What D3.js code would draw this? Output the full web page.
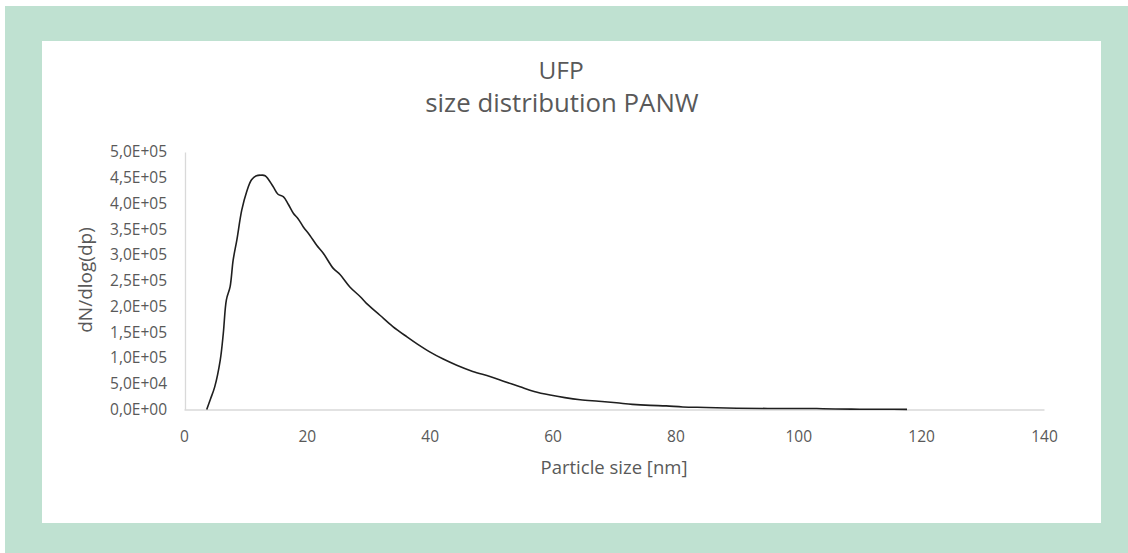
<!DOCTYPE html>
<html>
<head>
<meta charset="utf-8">
<script src="https://cdn.jsdelivr.net/npm/d3@7"></script>
<style>
  html, body { margin: 0; padding: 0; background: #ffffff; }
  svg { display: block; }
</style>
</head>
<body>
<svg id="chart" width="1128" height="553"></svg>
<script>
// ---- Data ----
const titleLines = ["UFP", "size distribution PANW"];
const xAxisTitle = "Particle size [nm]";
const yAxisTitle = "dN/dlog(dp)";
const xTicks = [0, 20, 40, 60, 80, 100, 120, 140];
const yTicks = [0, 50000, 100000, 150000, 200000, 250000, 300000, 350000, 400000, 450000, 500000];
const particleSize = [3.7, 4.3, 5.0, 5.9, 6.4, 6.9, 7.5, 8.0, 8.6, 9.4, 10.2, 11.0, 11.8, 12.5, 13.2, 14.5, 15.3, 16.2, 17.0, 17.8, 18.6, 19.4, 20.5, 21.6, 22.7, 24.3, 25.4, 27.0, 28.7, 29.7, 31.9, 34.0, 36.3, 38.0, 40.0, 42.2, 44.4, 47.0, 49.8, 52.0, 54.7, 57.0, 59.6, 62.0, 64.5, 67.5, 70.4, 73.0, 75.9, 78.5, 81.2, 85.0, 90.0, 95.0, 100.0, 103.0, 106.0, 110.0, 114.0, 117.7];
const dNdlogDp = [0, 20000, 44000, 96000, 148000, 213000, 238000, 290000, 329000, 387000, 423000, 446000, 454000, 455000, 454000, 433000, 418000, 413000, 398000, 381000, 370000, 355000, 338000, 319000, 303000, 274000, 262000, 238000, 219000, 206000, 183000, 161000, 141000, 127000, 112000, 98000, 86000, 74000, 64000, 55000, 44000, 35000, 28000, 23000, 19000, 16000, 13000, 10000, 8000, 7000, 5000, 4000, 2500, 2000, 2000, 1800, 1000, 600, 400, 300];

// ---- Layout ----
const svg = d3.select("#chart");
svg.append("rect").attr("x", 5).attr("y", 6).attr("width", 1123).attr("height", 547).attr("fill", "#bfe1d1");
svg.append("rect").attr("x", 42).attr("y", 41).attr("width", 1059).attr("height", 482).attr("fill", "#ffffff");

const x = d3.scaleLinear().domain([0, 140]).range([184, 1044]);
const y = d3.scaleLinear().domain([0, 500000]).range([409.5, 152]);

const fontFam = "'Open Sans', 'Noto Sans', sans-serif";
const textCol = "#595959";

// Title
svg.append("text").attr("x", 561).attr("y", 79).attr("text-anchor", "middle")
  .attr("font-family", fontFam).attr("font-size", 24.5).attr("fill", textCol).text(titleLines[0]);
svg.append("text").attr("x", 562).attr("y", 112).attr("text-anchor", "middle")
  .attr("font-family", fontFam).attr("font-size", 25.8).attr("fill", textCol).text(titleLines[1]);

// Axes
const fmtY = v => {
  if (v === 0) return "0,0E+00";
  const e = Math.floor(Math.log10(v));
  const m = v / Math.pow(10, e);
  return m.toFixed(1).replace(".", ",") + "E+" + String(e).padStart(2, "0");
};

const xAxis = d3.axisBottom(x).tickValues(xTicks).tickSize(0).tickPadding(21).tickFormat(d => d);
const gx = svg.append("g").attr("transform", `translate(0,${y(0)})`).call(xAxis);
gx.select(".domain").attr("stroke", "#d9d9d9").attr("stroke-width", 1.3);
gx.selectAll("text").attr("font-family", fontFam).attr("font-size", 15.5).attr("fill", textCol)
  .attr("dy", "0.35em").attr("y", 27);

const yAxis = d3.axisLeft(y).tickValues(yTicks).tickSize(0).tickPadding(18).tickFormat(fmtY);
const gy = svg.append("g").attr("transform", `translate(${x(0) + 1},0)`).call(yAxis);
gy.select(".domain").attr("stroke", "#d9d9d9").attr("stroke-width", 1.3);
gy.selectAll("text").attr("font-family", fontFam).attr("font-size", 15.5).attr("fill", textCol);

// Axis titles
svg.append("text").attr("x", 614).attr("y", 474).attr("text-anchor", "middle")
  .attr("font-family", fontFam).attr("font-size", 18.5).attr("fill", textCol).text(xAxisTitle);
svg.append("text").attr("transform", "translate(92,280) rotate(-90)").attr("text-anchor", "middle")
  .attr("font-family", fontFam).attr("font-size", 19).attr("fill", textCol).text(yAxisTitle);

// Line
const pts = particleSize.map((d, i) => [d, dNdlogDp[i]]);
const line = d3.line().x(d => x(d[0])).y(d => y(d[1])).curve(d3.curveCatmullRom.alpha(0.5));
svg.append("path").datum(pts).attr("d", line).attr("fill", "none")
  .attr("stroke", "#1f1f1f").attr("stroke-width", 1.6).attr("stroke-linejoin", "round");
</script>
</body>
</html>
